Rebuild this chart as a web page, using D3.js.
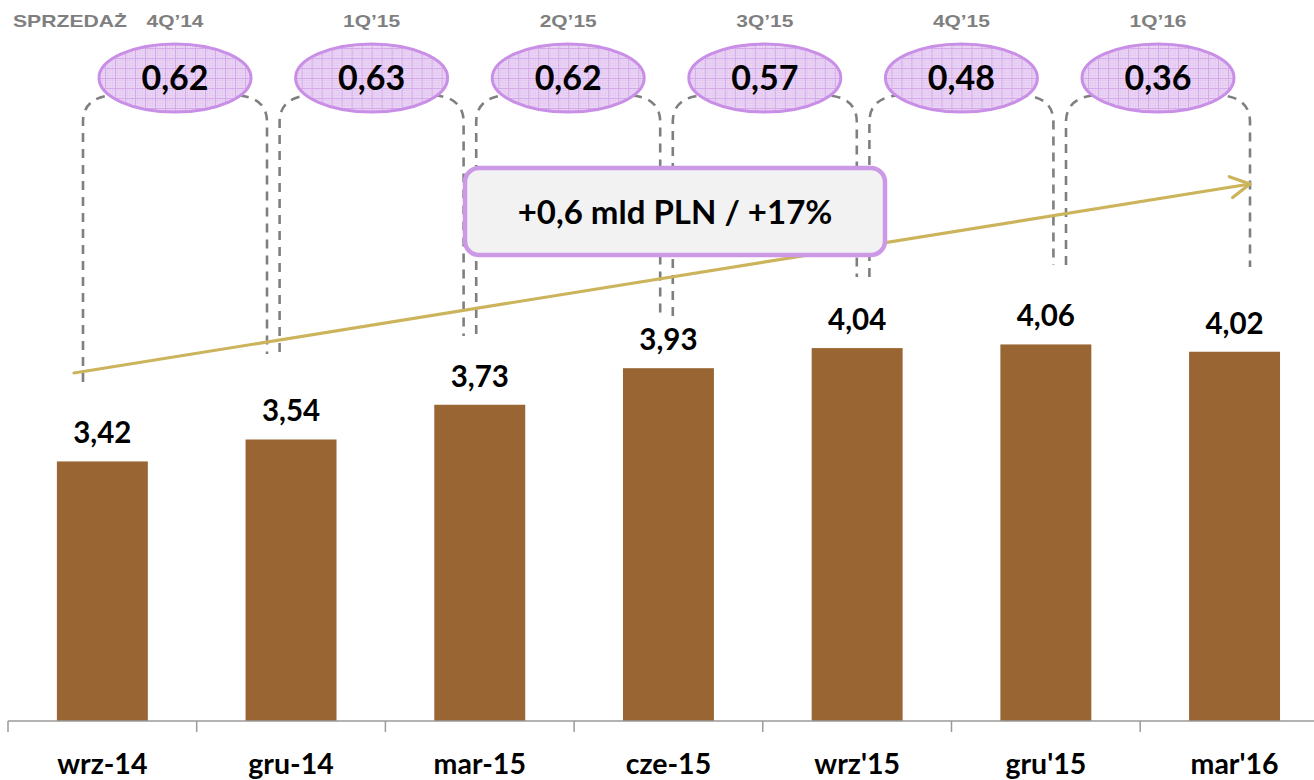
<!DOCTYPE html>
<html><head><meta charset="utf-8">
<script src="https://cdn.jsdelivr.net/npm/d3@7"></script>
<style>body{margin:0;background:#fff} svg{display:block}</style>
</head><body><svg id="c" width="1314" height="780"></svg>
<script>
// ---- data ----
const categories = ["wrz-14","gru-14","mar-15","cze-15","wrz'15","gru'15","mar'16"];
const sales = [3.42,3.54,3.73,3.93,4.04,4.06,4.02];
const quarters = ["4Q’14","1Q’15","2Q’15","3Q’15","4Q’15","1Q’16"];
const quarterSales = [0.62,0.63,0.62,0.57,0.48,0.36];
const headerLabel = "SPRZEDAŻ";
const growthLabel = "+0,6 mld PLN / +17%";

// ---- layout ----
const W = 1314, H = 780, baseY = 721;
const fmt = v => d3.format(".2f")(v).replace(".", ",");
const svg = d3.select("#c");
svg.append("rect").attr("width", W).attr("height", H).attr("fill", "#fff");

const x = d3.scaleBand().domain(categories).range([8, 8 + 7 * 188.7]).paddingInner(0.518).paddingOuter(0.259);
const y = d3.scaleLinear().domain([2, 6]).range([baseY, baseY - 4 * 182.8]);
const qx = d3.scalePoint().domain(quarters).range([175, 1158]);
const bracketHalf = 92;
const bracketEnds = [[382,354],[352,336],[334,316],[316,277],[277,265],[265,267]];

const calibri = "Lato, 'Open Sans', sans-serif";

// pattern for ellipses
const defs = svg.append("defs");
const pat = defs.append("pattern").attr("id","grid").attr("patternUnits","userSpaceOnUse")
  .attr("width",10).attr("height",10);
pat.append("rect").attr("width",10).attr("height",10).attr("fill","#ebd7f5");
pat.append("path").attr("d","M0,2.5H10M0,5H10M0,7.5H10M2.5,0V10M5,0V10M7.5,0V10")
  .attr("stroke","#e2c6f0").attr("stroke-width",0.7);
pat.append("path").attr("d","M0,0.5H10M0.5,0V10").attr("stroke","#d4a9ea").attr("stroke-width",1);

// bars
svg.append("g").selectAll("rect").data(sales).join("rect")
  .attr("x", (d,i) => x(categories[i]))
  .attr("y", d => y(d))
  .attr("width", x.bandwidth())
  .attr("height", d => baseY - y(d))
  .attr("fill", "#996633");

// value labels
svg.append("g").selectAll("text").data(sales).join("text")
  .attr("x", (d,i) => x(categories[i]) + x.bandwidth()/2)
  .attr("y", d => y(d) - 18)
  .attr("text-anchor","middle")
  .attr("font-family", calibri).attr("font-weight", 700).attr("font-size", 29.5)
  .attr("fill","#000")
  .text(d => fmt(d));

// x axis
const axis = svg.append("g");
axis.append("line").attr("x1", x.range()[0]).attr("x2", x.range()[1])
  .attr("y1", baseY).attr("y2", baseY).attr("stroke","#9a9a9a").attr("stroke-width",1.5);
const bounds = d3.range(categories.length + 1).map(i => x.range()[0] + i * x.step());
axis.selectAll("line.t").data(bounds).join("line").attr("class","t")
  .attr("x1", d => d).attr("x2", d => d).attr("y1", baseY).attr("y2", baseY + 11)
  .attr("stroke","#9a9a9a").attr("stroke-width",1.5);
axis.selectAll("text").data(categories).join("text")
  .attr("x", d => x(d) + x.bandwidth()/2).attr("y", 774)
  .attr("text-anchor","middle")
  .attr("font-family", calibri).attr("font-weight", 700).attr("font-size", 28.5)
  .attr("fill","#000").text(d => d);

// brackets
const topY = 95;
svg.append("g").selectAll("path").data(quarters).join("path")
  .attr("d", (q,i) => {
    const L = qx(q) - bracketHalf, R = qx(q) + bracketHalf;
    const [bl, br] = bracketEnds[i];
    return `M${L},${bl} V${topY+27} Q${L},${topY} ${L+36},${topY} H${R-36} Q${R},${topY} ${R},${topY+27} V${br}`;
  })
  .attr("fill","none").attr("stroke","#7f7f7f").attr("stroke-width",2.6)
  .attr("stroke-dasharray","9,7");

// growth arrow
const a0 = [74, 373], a1 = [1250, 184];
const ang = Math.atan2(a1[1]-a0[1], a1[0]-a0[0]);
const hl = 22, ha = 0.5;
const arrow = svg.append("g").attr("stroke","#cbb45b").attr("stroke-width",3.2).attr("fill","none")
  .attr("stroke-linecap","round").attr("stroke-linejoin","round");
arrow.append("line").attr("x1",a0[0]).attr("y1",a0[1]).attr("x2",a1[0]).attr("y2",a1[1]);
arrow.append("path").attr("d",
  `M${a1[0]-hl*Math.cos(ang-ha)},${a1[1]-hl*Math.sin(ang-ha)} L${a1[0]},${a1[1]} L${a1[0]-hl*Math.cos(ang+ha)},${a1[1]-hl*Math.sin(ang+ha)}`);

// growth box
svg.append("rect").attr("x",465).attr("y",168).attr("width",420).attr("height",87).attr("rx",14)
  .attr("fill","#f2f2f2").attr("stroke","#cc99e6").attr("stroke-width",4.5);
svg.append("text").attr("x",675).attr("y",224).attr("text-anchor","middle")
  .attr("font-family", calibri).attr("font-weight",700).attr("font-size",33)
  .attr("fill","#000").text(growthLabel);

// ellipses
const eg = svg.append("g").selectAll("g").data(quarterSales).join("g")
  .attr("transform", (d,i) => `translate(${qx(quarters[i])},78)`);
eg.append("ellipse").attr("rx",76).attr("ry",34)
  .attr("fill","url(#grid)").attr("stroke","#c98fe6").attr("stroke-width",3);
eg.append("text").attr("y",12).attr("text-anchor","middle")
  .attr("font-family", calibri).attr("font-weight",700).attr("font-size",34)
  .attr("fill","#000").text(d => fmt(d));

// quarter labels
svg.append("g").selectAll("text").data(quarters).join("text")
  .attr("x", q => qx(q)).attr("y", 27).attr("text-anchor","middle")
  .attr("font-family","'Liberation Sans', Arial, sans-serif").attr("font-weight",700).attr("font-size",17)
  .attr("textLength",57).attr("lengthAdjust","spacingAndGlyphs")
  .attr("fill","#7f7f7f").text(q => q);
svg.append("text").attr("x",13).attr("y",27)
  .attr("font-family","'Liberation Sans', Arial, sans-serif").attr("font-weight",700).attr("font-size",17)
  .attr("textLength",114).attr("lengthAdjust","spacingAndGlyphs")
  .attr("fill","#7f7f7f").text(headerLabel);
</script>
</body></html>
